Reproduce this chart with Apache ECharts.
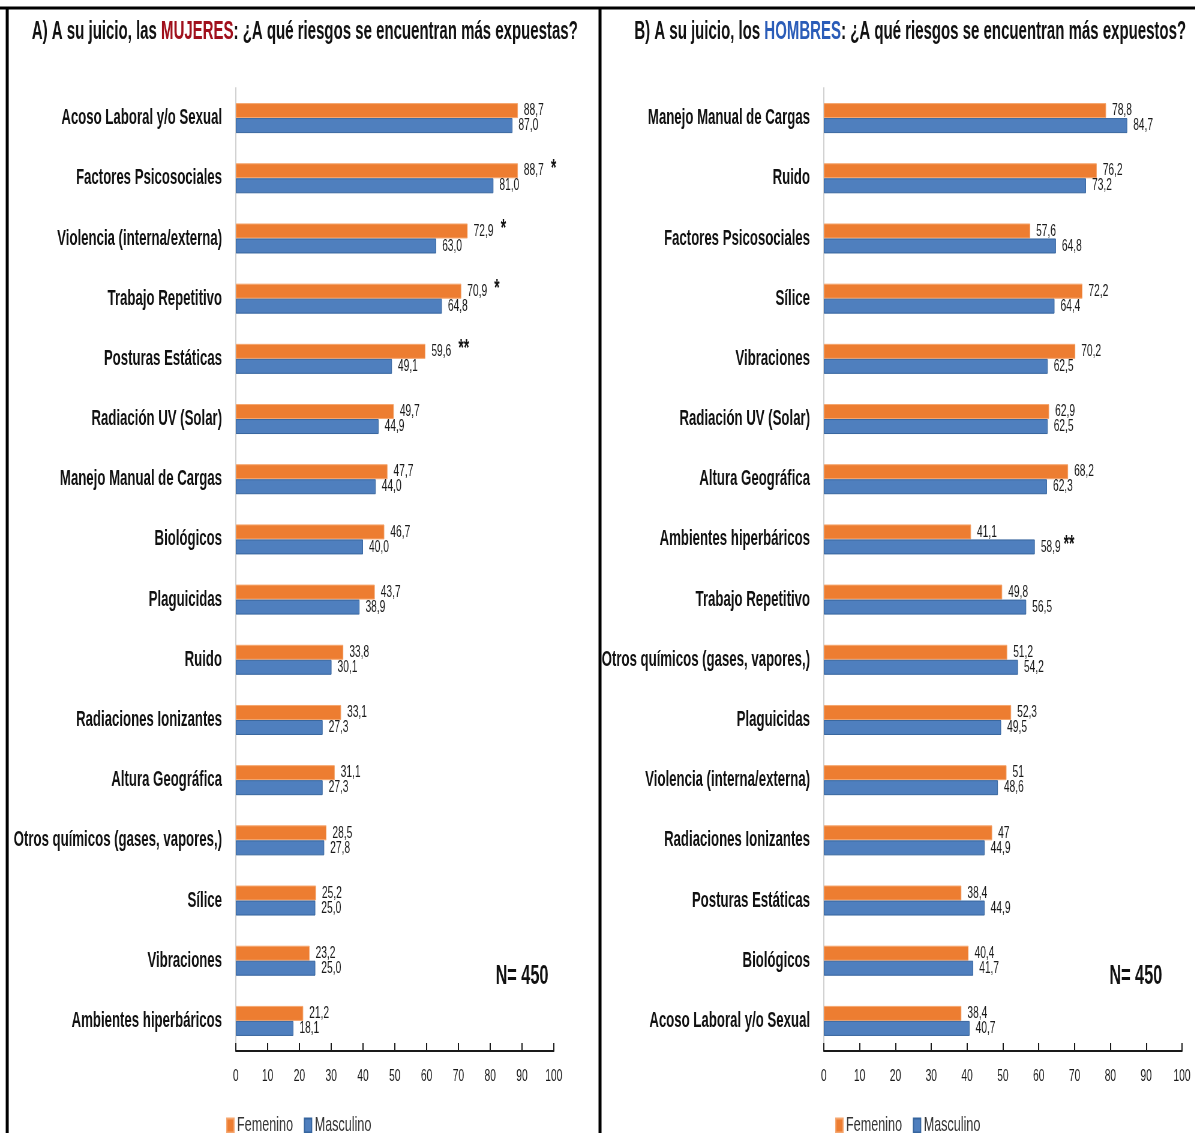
<!DOCTYPE html>
<html>
<head>
<meta charset="utf-8">
<script src="https://cdn.jsdelivr.net/npm/echarts@6/dist/echarts.min.js"></script>
<style>
  html, body { margin: 0; padding: 0; background: #fff; overflow: hidden; }
  #wrap { width: 1195px; height: 1133px; overflow: hidden; }
  /* the chart is laid out on a wide canvas and compressed horizontally,
     giving the tall, condensed lettering of the printed figure */
  #chart { width: 1992px; height: 1133px; transform: scaleX(0.6); transform-origin: 0 0; }
</style>
</head>
<body>
<div id="wrap"><div id="chart"></div></div>
<script>
// ---- Panel A: risks women are most exposed to ----
const catsA = [
  'Acoso Laboral y/o Sexual', 'Factores Psicosociales', 'Violencia (interna/externa)',
  'Trabajo Repetitivo', 'Posturas Estáticas', 'Radiación UV (Solar)',
  'Manejo Manual de Cargas', 'Biológicos', 'Plaguicidas', 'Ruido',
  'Radiaciones Ionizantes', 'Altura Geográfica', 'Otros químicos (gases, vapores,)',
  'Sílice', 'Vibraciones', 'Ambientes hiperbáricos'
];
const femA  = [88.7, 88.7, 72.9, 70.9, 59.6, 49.7, 47.7, 46.7, 43.7, 33.8, 33.1, 31.1, 28.5, 25.2, 23.2, 21.2];
const mascA = [87.0, 81.0, 63.0, 64.8, 49.1, 44.9, 44.0, 40.0, 38.9, 30.1, 27.3, 27.3, 27.8, 25.0, 25.0, 18.1];
const starsFemA  = ['', '*', '*', '*', '**', '', '', '', '', '', '', '', '', '', '', ''];
const starsMascA = ['', '', '', '', '', '', '', '', '', '', '', '', '', '', '', ''];

// ---- Panel B: risks men are most exposed to ----
const catsB = [
  'Manejo Manual de Cargas', 'Ruido', 'Factores Psicosociales', 'Sílice', 'Vibraciones',
  'Radiación UV (Solar)', 'Altura Geográfica', 'Ambientes hiperbáricos',
  'Trabajo Repetitivo', 'Otros químicos (gases, vapores,)', 'Plaguicidas',
  'Violencia (interna/externa)', 'Radiaciones Ionizantes', 'Posturas Estáticas',
  'Biológicos', 'Acoso Laboral y/o Sexual'
];
const femB  = [78.8, 76.2, 57.6, 72.2, 70.2, 62.9, 68.2, 41.1, 49.8, 51.2, 52.3, 51, 47, 38.4, 40.4, 38.4];
const mascB = [84.7, 73.2, 64.8, 64.4, 62.5, 62.5, 62.3, 58.9, 56.5, 54.2, 49.5, 48.6, 44.9, 44.9, 41.7, 40.7];
const starsFemB  = ['', '', '', '', '', '', '', '', '', '', '', '', '', '', '', ''];
const starsMascB = ['', '', '', '', '', '', '', '**', '', '', '', '', '', '', '', ''];

const axisTicks = [0, 10, 20, 30, 40, 50, 60, 70, 80, 90, 100];
const seriesNames = ['Femenino', 'Masculino'];
const sampleNote = 'N= 450';

const ORANGE = '#ED7D31';
const BLUE = '#4F7FBE';
const FONT = '"Liberation Sans", Arial, sans-serif';

// decimal comma; panel A always shows one decimal, panel B drops ",0"
function fmt(v, keepZero) {
  if (!keepZero && Number.isInteger(v)) return String(v);
  return v.toFixed(1).replace('.', ',');
}

function barSeries(name, data, stars, gridIdx, color, border, keepZero, starGap) {
  return {
    type: 'bar',
    name: name,
    xAxisIndex: gridIdx,
    yAxisIndex: gridIdx,
    data: data,
    barWidth: 15,
    barGap: '0%',
    itemStyle: { color: color, borderColor: border, borderWidth: 1 },
    label: {
      show: true,
      position: 'right',
      distance: 10,
      color: '#1a1a1a',
      fontFamily: FONT,
      fontSize: 17,
      formatter: function (p) {
        const txt = '{v|' + fmt(p.value, keepZero) + '}';
        const st = stars[p.dataIndex];
        return st ? txt + '{s|' + st + '}' : txt;
      },
      rich: {
        v: { fontSize: 17, fontFamily: FONT, color: '#1a1a1a' },
        s: { fontSize: 23, fontWeight: 'bold', fontFamily: FONT, color: '#111',
             padding: [0, 0, 3, starGap] }
      }
    }
  };
}

function catAxis(gridIdx, cats) {
  return {
    type: 'category',
    gridIndex: gridIdx,
    data: cats,
    inverse: true,
    axisLine: { show: true, lineStyle: { color: '#D0D0D0', width: 2 } },
    axisTick: { show: false },
    axisLabel: { color: '#111', fontFamily: FONT, fontWeight: 'bold', fontSize: 22, margin: 23 }
  };
}

function valAxis(gridIdx) {
  return {
    type: 'value',
    gridIndex: gridIdx,
    min: axisTicks[0],
    max: axisTicks[axisTicks.length - 1],
    interval: axisTicks[1] - axisTicks[0],
    axisLine: { show: true, lineStyle: { color: '#1a1a1a', width: 2 } },
    axisTick: { show: true, inside: true, length: 8, lineStyle: { color: '#1a1a1a', width: 2 } },
    splitLine: { show: false },
    axisLabel: { color: '#1a1a1a', fontFamily: FONT, fontSize: 17, margin: 17 }
  };
}

function legend(left) {
  return {
    data: seriesNames,
    left: left,
    top: 1110,
    itemWidth: 12,
    itemHeight: 14,
    itemGap: 18,
    icon: 'rect',
    selectedMode: false,
    textStyle: { fontFamily: FONT, fontSize: 21, color: '#333' }
  };
}

function heading(x, lead, key, keyColor, tail) {
  return {
    type: 'text',
    x: x, y: 32,
    style: {
      text: '{a|' + lead + '}{k|' + key + '}{a|' + tail + '}',
      align: 'center', verticalAlign: 'middle',
      rich: {
        a: { fontFamily: FONT, fontWeight: 'bold', fontSize: 25, fill: '#111' },
        k: { fontFamily: FONT, fontWeight: 'bold', fontSize: 25, fill: keyColor }
      }
    }
  };
}

const chart = echarts.init(document.getElementById('chart'), null, { renderer: 'canvas' });

chart.setOption({
  animation: false,
  backgroundColor: '#fff',
  color: [ORANGE, BLUE],
  grid: [
    { left: 393, width: 530, top: 88, bottom: 82 },
    { left: 1373, width: 597, top: 88, bottom: 82 }
  ],
  xAxis: [valAxis(0), valAxis(1)],
  yAxis: [catAxis(0, catsA), catAxis(1, catsB)],
  legend: [legend(372), legend(1387)],
  series: [
    barSeries(seriesNames[0], femA, starsFemA, 0, ORANGE, '#F5A66E', true, 12),
    barSeries(seriesNames[1], mascA, starsMascA, 0, BLUE, '#36659E', true, 12),
    barSeries(seriesNames[0], femB, starsFemB, 1, ORANGE, '#F5A66E', false, 5),
    barSeries(seriesNames[1], mascB, starsMascB, 1, BLUE, '#36659E', false, 5)
  ],
  graphic: [
    // frame: top rule, left edge and the divider between the panels
    { type: 'line', shape: { x1: 0, y1: 8, x2: 1992, y2: 8 }, style: { stroke: '#000', lineWidth: 3 } },
    { type: 'line', shape: { x1: 12, y1: 8, x2: 12, y2: 1133 }, style: { stroke: '#000', lineWidth: 5 } },
    { type: 'line', shape: { x1: 1000, y1: 8, x2: 1000, y2: 1133 }, style: { stroke: '#000', lineWidth: 5 } },
    heading(508, 'A) A su juicio, las ', 'MUJERES', '#A0101C', ': ¿A qué riesgos se encuentran más expuestas?'),
    heading(1517, 'B) A su juicio, los ', 'HOMBRES', '#2A5CB8', ': ¿A qué riesgos se encuentran más expuestos?'),
    { type: 'text', x: 870, y: 977,
      style: { text: sampleNote, align: 'center', verticalAlign: 'middle',
               font: 'bold 27px ' + FONT, fill: '#111' } },
    { type: 'text', x: 1893, y: 977,
      style: { text: sampleNote, align: 'center', verticalAlign: 'middle',
               font: 'bold 27px ' + FONT, fill: '#111' } }
  ]
});
</script>
</body>
</html>
